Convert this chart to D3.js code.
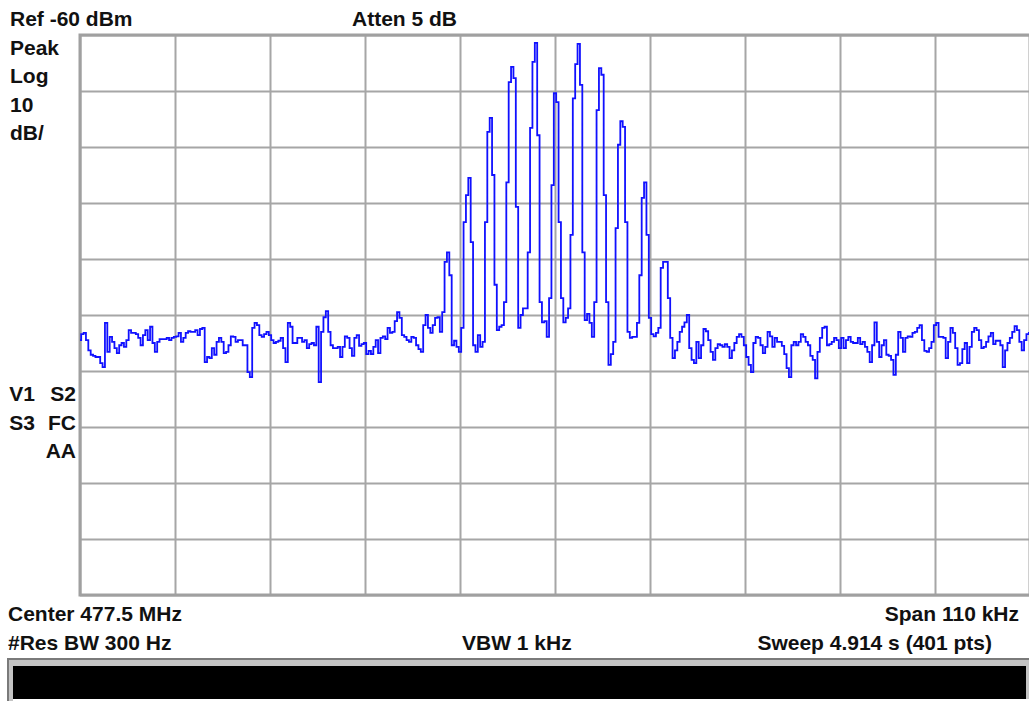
<!DOCTYPE html>
<html>
<head>
<meta charset="utf-8">
<script src="https://cdn.jsdelivr.net/npm/d3@7"></script>
<style>
  body { margin: 0; background: #fff; }
  svg { display: block; }
  text { font-family: "Liberation Sans", Arial, sans-serif; font-weight: bold; font-size: 21px; fill: #111; }
</style>
</head>
<body>
<script>
// analyzer settings
const centerMHz = 477.5;
const spanKHz = 110;
const refLevel = -60;    // dBm, top of screen
const dbPerDiv = 10;
const divisions = 10;

// sweep trace, dBm, 401 points split by region
const noiseLeft = [
  -114.5, -113.4, -113.2, -114.5, -116.3, -117.1, -117.3, -117.5, -117.5, -118.6,
  -119.3, -111.4, -116.6, -113.9, -114.8, -115.9, -116.8, -115.4, -115.0, -115.7,
  -114.5, -112.7, -113.2, -113.2, -113.4, -114.1, -115.4, -113.6, -112.7, -114.5,
  -112.1, -115.0, -116.6, -114.8, -114.3, -114.3, -114.3, -114.1, -114.5, -114.1,
  -113.9, -113.8, -113.2, -114.8, -114.1, -113.2, -112.9, -113.0, -113.0, -112.7,
  -113.6, -112.5, -112.3, -118.4, -117.5, -117.7, -115.9, -117.1, -114.8, -114.1,
  -114.8, -116.8, -116.6, -115.4, -113.8, -113.9, -114.8, -114.5, -114.5, -115.4,
  -115.4, -120.2, -121.1, -112.3, -111.4, -111.8, -113.6, -113.9,
  -113.4, -113.0, -113.6, -114.5, -115.0, -114.8, -114.6, -114.1, -115.9, -118.4,
  -111.4, -112.1, -115.0, -115.0, -114.1, -114.1, -114.8, -114.5, -115.9, -115.2,
  -115.0, -115.4, -112.1, -122.0, -113.0, -110.4, -109.3, -113.0, -115.4, -115.9,
  -115.9, -115.7, -117.5, -115.7, -113.8, -114.1, -115.9, -117.3, -114.1, -113.6,
  -115.5, -115.2, -115.0, -117.0, -116.4, -117.0, -115.7, -114.5, -116.8, -114.1,
  -113.8, -114.3, -112.3, -113.2, -113.0, -111.1, -109.5, -110.5, -113.6, -113.9,
  -114.5, -114.8, -113.9, -114.1, -115.4, -116.1, -116.6, -111.8, -110.0, -112.3,
  -113.2, -111.8, -110.5, -110.4, -113.0, -109.5
];

const sidebandsLow = [
  -100.5, -98.8, -102.9, -115.4, -114.6, -115.7, -116.6, -112.3, -93.4, -88.6,
  -85.5, -97.0, -115.4, -116.6, -113.6, -115.7, -114.8, -93.4, -77.3, -74.8,
  -85.0, -104.6, -112.7, -112.1, -111.8, -107.7, -86.3, -68.4, -65.7, -67.7,
  -90.7, -112.3, -110.0, -108.8, -108.8, -98.8, -76.6, -64.8, -61.4, -77.9,
  -107.7, -111.3, -111.1, -113.9, -107.0, -86.8, -70.4, -72.0, -93.4, -107.0,
  -111.3, -110.5
];

const sidebandsHigh = [
  -108.8, -95.7, -71.3, -65.2, -61.6, -68.9, -98.8, -110.9, -109.8, -111.4,
  -113.9, -107.7, -73.4, -65.9, -67.1, -88.6, -107.7, -118.9, -117.0, -114.8,
  -94.5, -79.6, -75.4, -76.4, -93.4, -113.0, -114.1, -113.9, -113.9, -111.4,
  -102.9, -89.1, -86.3, -95.7, -110.5, -113.4, -113.8, -113.2, -112.3, -101.6,
  -100.5, -100.5, -107.0, -114.1, -117.7, -116.3, -114.8, -113.0, -112.1, -111.3,
  -110.0, -115.9, -118.0
];

const noiseRight = [
  -118.6, -114.8, -117.7, -115.4, -112.5, -112.9, -114.5, -116.6, -118.0, -115.9,
  -115.2, -115.4, -115.7, -115.2, -115.7, -117.7, -116.3, -115.0, -113.9, -113.4,
  -113.9, -115.4, -117.5, -118.9, -120.2, -115.0, -113.9, -114.1, -115.4, -116.8,
  -115.7, -113.0, -113.8, -115.7, -114.1, -114.8, -114.8, -115.5, -117.0, -119.5,
  -121.1, -115.4, -114.8, -115.4, -114.8, -113.4, -113.9, -114.8, -115.4, -117.3,
  -118.0, -121.3, -116.6, -114.1, -112.3, -112.1, -115.4, -115.2, -114.8, -114.1,
  -114.5, -115.9, -114.1, -115.9, -114.5, -113.9, -114.8, -115.0, -115.0,
  -114.1, -115.2, -114.8, -115.7, -116.6, -118.4, -115.4, -111.3, -114.8, -117.5,
  -115.4, -114.5, -117.1, -117.3, -118.0, -120.7, -117.1, -113.0, -114.1, -116.6,
  -114.1, -113.8, -113.9, -113.2, -113.0, -112.3, -111.8, -114.5, -116.4, -116.6,
  -115.9, -114.8, -111.8, -111.4, -113.9, -113.9, -114.1, -117.7, -114.8, -112.3,
  -113.2, -115.9, -118.9, -118.6, -116.1, -115.0, -118.6, -115.7, -113.0, -112.3,
  -112.7, -114.5, -115.9, -115.7, -114.8, -113.8, -113.2, -115.2, -114.6, -114.6,
  -115.4, -119.3, -116.3, -115.0, -114.1, -113.0, -112.0, -112.7, -114.8, -116.3,
  -114.5, -113.4, -113.2
];

const trace = noiseLeft.concat(sidebandsLow, sidebandsHigh, noiseRight);

// screen annotations
const headerLeft = "Ref -60 dBm";
const headerMid = "Atten 5 dB";
const sideTop = ["Peak", "Log", "10", "dB/"];
const sideFlags = [["V1", "S2"], ["S3", "FC"], ["", "AA"]];
const footerRow1 = ["Center 477.5 MHz", "Span 110 kHz"];
const footerRow2 = ["#Res BW 300 Hz", "VBW 1 kHz", "Sweep 4.914 s (401 pts)"];

const W = 1029, H = 701;
const plot = { left: 80, top: 35, right: 1030, bottom: 595 };

const svg = d3.select("body").append("svg")
  .attr("width", W)
  .attr("height", H);

svg.append("rect").attr("width", W).attr("height", H).attr("fill", "#fff");

const startMHz = centerMHz - spanKHz / 2000;
const stopMHz = centerMHz + spanKHz / 2000;
const nPts = trace.length;
const freqs = trace.map((d, i) => startMHz + i * (stopMHz - startMHz) / (nPts - 1));

const xScale = d3.scaleLinear()
  .domain([startMHz, stopMHz])
  .range([plot.left, plot.right]);

const yScale = d3.scaleLinear()
  .domain([refLevel - dbPerDiv * divisions, refLevel])
  .range([plot.bottom, plot.top]);

const xGrid = d3.range(divisions + 1).map(k => startMHz + k * (stopMHz - startMHz) / divisions);
const yGrid = d3.range(divisions + 1).map(k => refLevel - k * dbPerDiv);

// graticule
const gx = svg.append("g")
  .attr("transform", `translate(0,${plot.bottom})`)
  .call(d3.axisBottom(xScale).tickValues(xGrid).tickSize(-(plot.bottom - plot.top)).tickFormat(""));
const gy = svg.append("g")
  .attr("transform", `translate(${plot.left},0)`)
  .call(d3.axisLeft(yScale).tickValues(yGrid).tickSize(-(plot.right - plot.left)).tickFormat(""));
[gx, gy].forEach(g => {
  g.select(".domain").remove();
  g.selectAll("line").attr("stroke", "#a6a6a6").attr("stroke-width", 2);
});

svg.append("rect")
  .attr("x", plot.left)
  .attr("y", plot.top)
  .attr("width", plot.right - plot.left)
  .attr("height", plot.bottom - plot.top)
  .attr("fill", "none")
  .attr("stroke", "#a0a0a0")
  .attr("stroke-width", 3);

svg.append("clipPath").attr("id", "clip")
  .append("rect")
  .attr("x", plot.left)
  .attr("y", plot.top)
  .attr("width", plot.right - plot.left)
  .attr("height", plot.bottom - plot.top);

// analyzer draws the trace as held steps
const line = d3.line()
  .x((d, i) => xScale(freqs[i]))
  .y(d => yScale(d))
  .curve(d3.curveStep);

svg.append("path")
  .datum(trace)
  .attr("clip-path", "url(#clip)")
  .attr("fill", "none")
  .attr("stroke", "#1010ff")
  .attr("stroke-width", 1.8)
  .attr("d", line);

// text
svg.append("text").attr("x", 10).attr("y", 26).text(headerLeft);
svg.append("text").attr("x", 352).attr("y", 26).text(headerMid);

svg.selectAll(".side")
  .data(sideTop)
  .enter()
  .append("text")
  .attr("class", "side")
  .attr("x", 10)
  .attr("y", (d, i) => 55 + i * 28.4)
  .text(d => d);

sideFlags.forEach((row, r) => {
  svg.append("text").attr("x", 35).attr("y", 401 + r * 28.5).attr("text-anchor", "end").text(row[0]);
  svg.append("text").attr("x", 76).attr("y", 401 + r * 28.5).attr("text-anchor", "end").text(row[1]);
});

svg.append("text").attr("x", 8).attr("y", 621).text(footerRow1[0]);
svg.append("text").attr("x", 1019).attr("y", 621).attr("text-anchor", "end").text(footerRow1[1]);
svg.append("text").attr("x", 8).attr("y", 650).text(footerRow2[0]);
svg.append("text").attr("x", 462).attr("y", 650).text(footerRow2[1]);
svg.append("text").attr("x", 992).attr("y", 650).attr("text-anchor", "end").text(footerRow2[2]);

// status bar
svg.append("rect").attr("x", 7).attr("y", 658).attr("width", 1022).attr("height", 43).attr("fill", "#c4c4c4");
svg.append("rect").attr("x", 7).attr("y", 658).attr("width", 1022).attr("height", 2).attr("fill", "#7a7a7a");
svg.append("rect").attr("x", 7).attr("y", 658).attr("width", 2).attr("height", 43).attr("fill", "#7a7a7a");
svg.append("rect").attr("x", 13).attr("y", 666).attr("width", 1013).attr("height", 33).attr("fill", "#000");
svg.append("rect").attr("x", 13).attr("y", 699).attr("width", 1016).attr("height", 2).attr("fill", "#fff");
</script>
</body>
</html>
